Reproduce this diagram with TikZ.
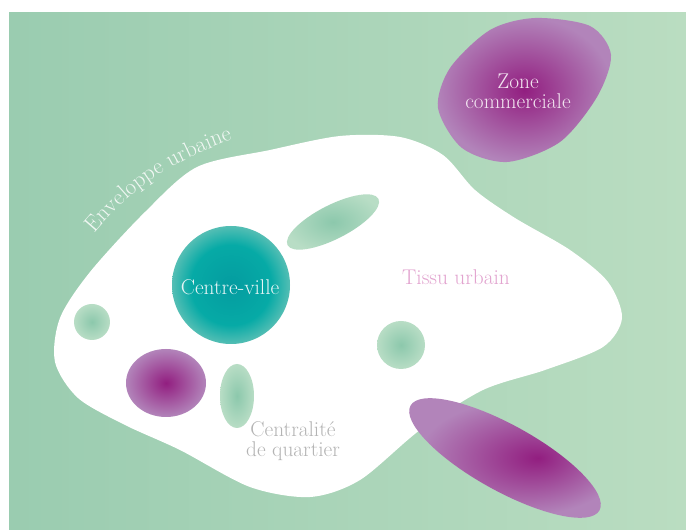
\documentclass[tikz,border=0pt]{standalone}
\usepackage{xcolor}
\usetikzlibrary{decorations.text}
\definecolor{bgdark}{RGB}{154,204,176}
\definecolor{bglight}{RGB}{186,221,193}
\definecolor{magdark}{RGB}{146,30,128}
\definecolor{maglight}{RGB}{178,132,186}
\definecolor{tealdark}{RGB}{4,156,160}
\definecolor{tealmid}{RGB}{6,170,166}
\definecolor{teallight}{RGB}{84,190,180}
\definecolor{greendark}{RGB}{140,200,172}
\definecolor{greenlight}{RGB}{184,221,197}
\definecolor{pinktext}{RGB}{226,163,207}
\definecolor{greytext}{RGB}{180,180,180}
\pgfdeclareradialshading{magoff}{\pgfpoint{8bp}{0bp}}{color(0bp)=(magdark); color(25bp)=(maglight); color(50bp)=(maglight)}
\pgfdeclareradialshading{tealring}{\pgfpoint{0bp}{0bp}}{color(0bp)=(tealdark); color(17bp)=(tealmid); color(25bp)=(teallight); color(50bp)=(teallight)}

\begin{document}
\begin{tikzpicture}[x=0.75pt,y=-0.75pt]
\tikzstyle{lbl}=[align=center,font=\fontsize{16}{15}\selectfont,inner sep=0pt]
\tikzstyle{magblob}=[inner color=magdark,outer color=maglight]
\tikzstyle{greenblob}=[inner color=greendark,outer color=greenlight]
\useasboundingbox (0,0) rectangle (686,530);
\shade[left color=bgdark,right color=bglight] (9,13) rectangle (686,530);
\fill[white] plot[smooth cycle] coordinates {(197,167) (270,150) (340,136) (400,137) (443,155) (475,190) (515,218) (570,250) (608,282) (622,318) (603,347) (545,370) (483,390) (420,430) (360,480) (310,497) (250,487) (180,450) (125,425) (78,398) (55,362) (60,318) (90,272) (145,212)};
\shade[magblob] plot[smooth cycle] coordinates {(438,108) (450,68) (490,30) (535,18) (590,26) (611,55) (597,97) (560,142) (507,162) (462,148)};
\shade[magblob] (166,383) ellipse (40 and 34);
\shade[shading=magoff,rotate around={-29:(505,458)}] (505,458) ellipse (108 and 33);
\shade[shading=tealring] (231,285) circle (59);
\shade[greenblob] (92,322) circle (18);
\shade[greenblob] (401,345) circle (24);
\shade[greenblob] (237,396) ellipse (17 and 32);
\shade[greenblob,rotate around={27:(333,222)}] (333,222) ellipse (51 and 17);
\path[decorate,decoration={text along path,text align=center,
  text={|\fontsize{17}{15}\selectfont\color{white!85!bgdark}|Enveloppe urbaine}}]
  (84,246) .. controls (122,199) and (154,166) .. (248,134);
\node[lbl,text=white!88!magdark] (zone) at (518,91) {Zone\\commerciale};
\node[lbl,text=white!90!tealdark] (centre) at (230,287) {Centre-ville};
\node[lbl,text=pinktext] (tissu) at (456,277) {Tissu urbain};
\node[lbl,text=greytext] (quartier) at (293,441) {Centralité\\de quartier};
\end{tikzpicture}
\end{document}
